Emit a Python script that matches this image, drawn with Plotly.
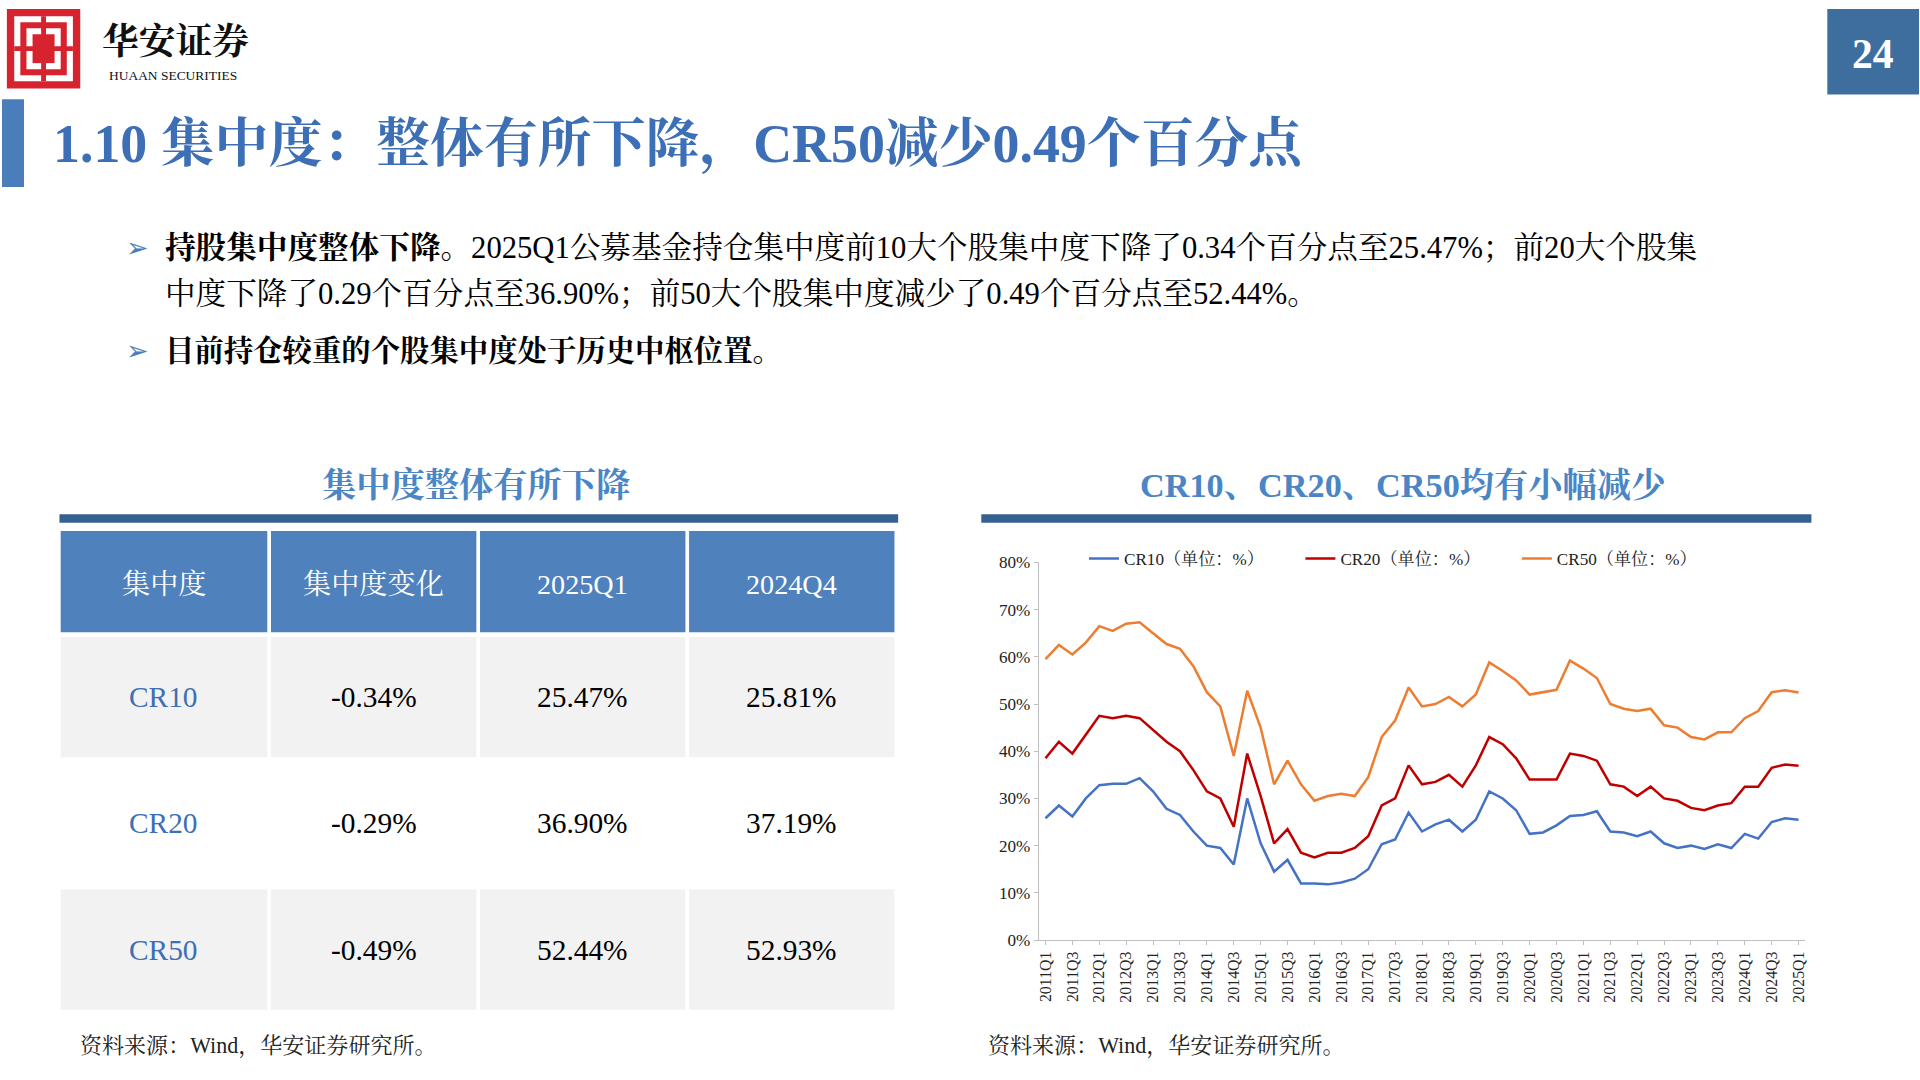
import plotly.graph_objects as go

# ---- data ----
years = list(range(2011, 2025))
quarters = [f"{y}Q{q}" for y in years for q in (1, 2, 3, 4)] + ["2025Q1"]

cr10 = [25.8, 28.5, 26.2, 30.0, 32.8, 33.1, 33.1, 34.3, 31.5, 27.8, 26.5, 23.0,
        20.0, 19.5, 16.0, 30.0, 20.5, 14.5, 17.0, 12.0, 12.0, 11.8, 12.2, 13.0,
        15.0, 20.3, 21.3, 27.0, 23.0, 24.5, 25.5, 23.0, 25.5, 31.5, 30.0, 27.5,
        22.5, 22.8, 24.3, 26.3, 26.5, 27.3, 23.0, 22.8, 22.0, 23.0, 20.5, 19.5,
        20.0, 19.3, 20.3, 19.5, 22.5, 21.5, 25.0, 25.81, 25.47]
cr20 = [38.5, 42.0, 39.5, 43.5, 47.5, 47.0, 47.5, 47.0, 44.5, 42.0, 40.0, 36.0,
        31.5, 30.0, 24.0, 39.5, 30.5, 20.5, 23.5, 18.5, 17.5, 18.5, 18.5, 19.5,
        22.0, 28.5, 30.0, 37.0, 33.0, 33.5, 35.0, 32.5, 37.0, 43.0, 41.5, 38.5,
        34.0, 34.0, 34.0, 39.5, 39.0, 38.0, 33.0, 32.5, 30.5, 32.5, 30.0, 29.5,
        28.0, 27.5, 28.5, 29.0, 32.5, 32.5, 36.5, 37.19, 36.90]
cr50 = [59.5, 62.5, 60.5, 63.0, 66.5, 65.5, 67.0, 67.3, 65.0, 62.7, 61.7, 58.0,
        52.5, 49.5, 39.0, 52.8, 45.0, 33.0, 38.0, 33.0, 29.5, 30.5, 31.0, 30.5,
        34.5, 43.0, 46.5, 53.5, 49.5, 50.0, 51.5, 49.5, 52.0, 58.8, 57.0, 55.0,
        52.0, 52.5, 53.0, 59.2, 57.5, 55.5, 50.0, 49.0, 48.5, 49.0, 45.5, 45.0,
        43.0, 42.5, 44.0, 44.0, 47.0, 48.5, 52.5, 52.93, 52.44]

table_header = ["集中度", "集中度变化", "2025Q1", "2024Q4"]
table_rows = [["CR10", "-0.34%", "25.47%", "25.81%"],
              ["CR20", "-0.29%", "36.90%", "37.19%"],
              ["CR50", "-0.49%", "52.44%", "52.93%"]]

# ---- layout helpers (reference drawn at 1568x882) ----
W, H = 1568, 882
S = 1920 / W
FONT = "Liberation Serif, Noto Serif CJK SC, Noto Sans CJK SC"
def px(x): return x / W
def py(y): return 1 - y / H

shapes, ann = [], []
def rect(x0, y0, x1, y1, color):
    shapes.append(dict(type="rect", xref="paper", yref="paper", x0=px(x0), x1=px(x1),
                       y0=py(y1), y1=py(y0), fillcolor=color, line=dict(width=0), layer="below"))
def text(x, y, s, size, color="#000", xa="center", bold=False):
    ann.append(dict(xref="paper", yref="paper", x=px(x), y=py(y), text=f"<b>{s}</b>" if bold else s,
                    showarrow=False, xanchor=xa, yanchor="middle",
                    font=dict(family=FONT, size=size * S, color=color)))

fig = go.Figure()
fig.add_trace(go.Scatter(x=quarters, y=cr10, mode="lines", name="CR10（单位：%）",
                         line=dict(color="#4472C4", width=2.5)))
fig.add_trace(go.Scatter(x=quarters, y=cr20, mode="lines", name="CR20（单位：%）",
                         line=dict(color="#C00000", width=2.5)))
fig.add_trace(go.Scatter(x=quarters, y=cr50, mode="lines", name="CR50（单位：%）",
                         line=dict(color="#ED7D31", width=2.5)))

# header decoration
rect(4, 0, 64, 66, "#D7232E")
rect(10, 6, 58, 60, "#FFFFFF")
rect(15, 11, 53, 55, "#D7232E")
rect(20, 16, 48, 50, "#FFFFFF")
rect(25, 21, 43, 45, "#D7232E")
rect(32, 6, 36, 60, "#D7232E")
rect(10, 31, 58, 35, "#D7232E")
text(80, 27, "华安证券", 30, "#111", xa="left", bold=True)
text(86, 55, "HUAAN SECURITIES", 11, "#111", xa="left")
rect(1493, 0, 1568, 71, "#3E6E9E")
text(1530, 37, "24", 34, "#FFFFFF", bold=True)
rect(0, 75, 18, 148, "#4A7EBB")
text(40, 112, "1.10 集中度：整体有所下降，CR50减少0.49个百分点", 44, "#3D6FB6", xa="left", bold=True)

text(100, 199, "➢", 22, "#4A7EBB", xa="left")
text(132, 199, "<b>持股集中度整体下降。</b>2025Q1公募基金持仓集中度前10大个股集中度下降了0.34个百分点至25.47%；前20大个股集",
     25, xa="left")
text(132, 237, "中度下降了0.29个百分点至36.90%；前50大个股集中度减少了0.49个百分点至52.44%。", 25, xa="left")
text(100, 284, "➢", 22, "#4A7EBB", xa="left")
text(132, 284, "目前持仓较重的个股集中度处于历史中枢位置。", 24, xa="left", bold=True)

# section titles
text(388, 396, "集中度整体有所下降", 28, "#4A86C5", bold=True)
rect(47, 420, 733, 427, "#366092")
text(1147, 396, "CR10、CR20、CR50均有小幅减少", 28, "#4A86C5", bold=True)
rect(801, 420, 1480, 427, "#366092")

# table
cols = [(48, 217), (220, 388), (391, 559), (562, 730)]
rows = [(522, 622), (627, 727), (732, 832)]
for (x0, x1), h in zip(cols, table_header):
    rect(x0, 434, x1, 518, "#4F81BD")
    text((x0 + x1) / 2, 478, h, 23, "#FFFFFF")
for r, ((y0, y1), row) in enumerate(zip(rows, table_rows)):
    for c, ((x0, x1), v) in enumerate(zip(cols, row)):
        if r != 1:
            rect(x0, y0, x1, y1, "#F2F2F2")
        text((x0 + x1) / 2, (y0 + y1) / 2, v, 24,
             "#3D6FB6" if c == 0 else "#000", bold=False)

text(62, 862, "资料来源：Wind，华安证券研究所。", 18, "#222", xa="left")
text(805, 862, "资料来源：Wind，华安证券研究所。", 18, "#222", xa="left")

fig.update_layout(
    width=1920, height=1080, margin=dict(l=0, r=0, t=0, b=0),
    paper_bgcolor="white", plot_bgcolor="white",
    shapes=shapes, annotations=ann,
    font=dict(family=FONT, color="#222"),
    showlegend=True,
    legend=dict(orientation="h", x=px(885), y=py(457), xanchor="left", yanchor="middle",
                font=dict(family=FONT, size=14 * S), entrywidth=140 * S,
                bgcolor="rgba(0,0,0,0)"),
    xaxis=dict(domain=[px(848), px(1475)], type="category", tickangle=-90,
               tickvals=quarters[::2], ticktext=quarters[::2],
               showline=True, linecolor="#BFBFBF", ticks="outside", tickcolor="#BFBFBF",
               ticklen=4, showgrid=False, tickfont=dict(family=FONT, size=13 * S, color="#222"),
               range=[-0.5, len(quarters) - 0.5]),
    yaxis=dict(domain=[py(774), py(460)], range=[0, 80], dtick=10, ticksuffix="%",
               showline=True, linecolor="#BFBFBF", ticks="outside", tickcolor="#BFBFBF",
               ticklen=4, showgrid=False, zeroline=False,
               tickfont=dict(family=FONT, size=14 * S, color="#222")),
)

fig.write_html("out.html", config={"displayModeBar": False},
               post_script="document.body.style.margin='0';")
